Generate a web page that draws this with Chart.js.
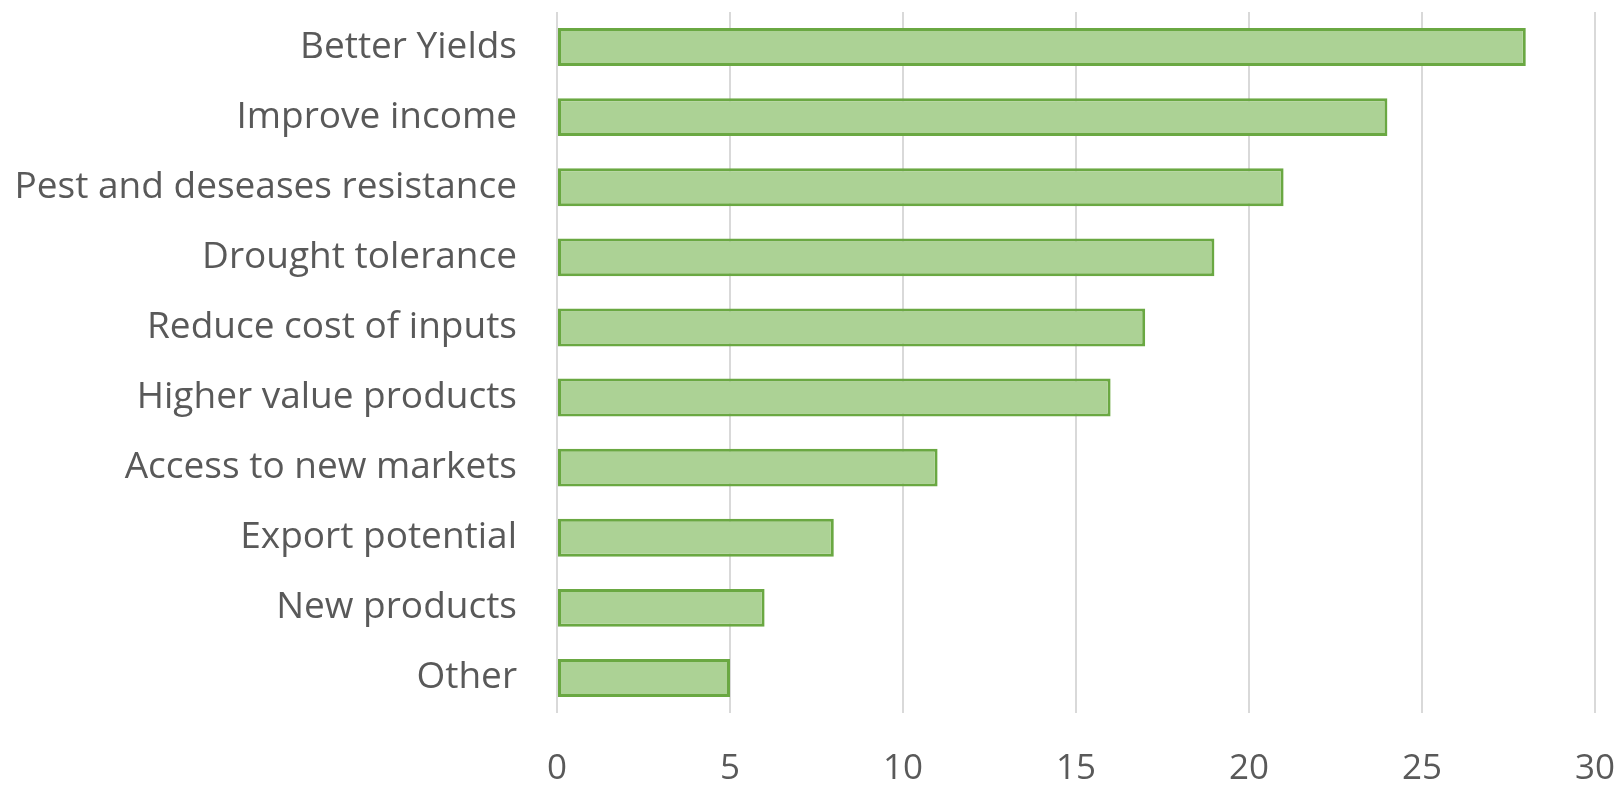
<!DOCTYPE html>
<html>
<head>
<meta charset="utf-8">
<script src="https://cdn.jsdelivr.net/npm/chart.js@4"></script>
<style>
  html, body { margin: 0; padding: 0; background: #fff; }
  #wrap { width: 1623px; height: 788px; }
</style>
</head>
<body>
<div id="wrap"><canvas id="chart" width="1623" height="788"></canvas></div>
<script>
const categories = [
  "Better Yields",
  "Improve income",
  "Pest and deseases resistance",
  "Drought tolerance",
  "Reduce cost of inputs",
  "Higher value products",
  "Access to new markets",
  "Export potential",
  "New products",
  "Other",
];
const counts = [28, 24, 21, 19, 17, 16, 11, 8, 6, 5];
const xTicks = [0, 5, 10, 15, 20, 25, 30];

const fontFamily = "'Open Sans', 'Liberation Sans', sans-serif";

new Chart(document.getElementById("chart"), {
  type: "bar",
  data: {
    labels: categories,
    datasets: [
      {
        data: counts,
        backgroundColor: "#acd295",
        borderColor: "#6aa842",
        borderWidth: 3,
        borderSkipped: false,
        categoryPercentage: 1,
        barPercentage: 0.54,
      },
    ],
  },
  options: {
    indexAxis: "y",
    responsive: false,
    animation: false,
    layout: { padding: { top: 12, right: 28, left: 0, bottom: 0 } },
    plugins: {
      legend: { display: false },
      tooltip: { enabled: false },
    },
    scales: {
      x: {
        min: 0,
        max: 30,
        afterBuildTicks: (scale) => {
          scale.ticks = xTicks.map((v) => ({ value: v }));
        },
        afterFit: (scale) => {
          scale.height = 75;
          scale.paddingLeft = 0;
          scale.paddingRight = 0;
        },
        grid: { color: "#d9d9d9", lineWidth: 2, drawTicks: false },
        border: { display: false },
        ticks: { color: "#595959", font: { family: fontFamily, size: 35 }, padding: 35 },
      },
      y: {
        afterFit: (scale) => {
          scale.width = 557;
          scale.paddingTop = 0;
          scale.paddingBottom = 0;
        },
        grid: { display: false, drawTicks: false },
        border: { display: false },
        ticks: { color: "#595959", font: { family: fontFamily, size: 37 }, padding: 40 },
      },
    },
  },
});
</script>
</body>
</html>
